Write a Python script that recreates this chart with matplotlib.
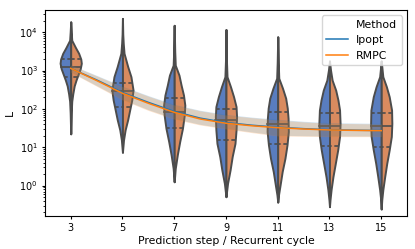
import colorsys

import numpy as np
import matplotlib
matplotlib.use("Agg")
import matplotlib.pyplot as plt
from matplotlib.colors import to_rgb
from matplotlib.lines import Line2D

# categories of the violin plot
steps = [3, 5, 7, 9, 11, 13, 15]

# violin outlines: log10(L) levels and relative density
violin_log_l = [
    [4.27, 4.0, 3.79, 3.6, 3.45, 3.3, 3.19, 3.05, 2.9, 2.75, 2.6, 2.4, 2.2, 1.9, 1.35],
    [4.36, 3.95, 3.71, 3.45, 3.1, 2.84, 2.49, 2.23, 1.97, 1.71, 1.45, 1.19, 0.87],
    [4.18, 3.5, 3.14, 2.88, 2.62, 2.36, 2.1, 1.84, 1.49, 1.15, 0.80, 0.45, 0.10],
    [4.07, 3.3, 2.84, 2.58, 2.32, 2.06, 1.80, 1.45, 1.10, 0.755, 0.41, 0.06, -0.29],
    [3.88, 3.2, 2.80, 2.54, 2.28, 2.02, 1.755, 1.41, 1.06, 0.71, 0.365, 0.02, -0.24, -0.43],
    [3.25, 3.01, 2.75, 2.49, 2.23, 1.97, 1.62, 1.28, 0.93, 0.58, 0.23, -0.11, -0.37, -0.55],
    [3.25, 2.84, 2.58, 2.32, 1.97, 1.62, 1.28, 0.93, 0.58, 0.23, -0.11, -0.37, -0.61],
]
violin_density = [
    [0, 0.05, 0.1, 0.45, 0.75, 0.95, 1.0, 0.9, 0.7, 0.5, 0.33, 0.2, 0.1, 0.05, 0],
    [0, 0.03, 0.075, 0.15, 0.5, 0.8, 1.0, 0.875, 0.68, 0.485, 0.25, 0.1, 0],
    [0, 0.05, 0.1, 0.45, 0.65, 0.875, 1.0, 0.95, 0.775, 0.52, 0.29, 0.1, 0],
    [0, 0.04, 0.1, 0.425, 0.715, 0.95, 1.0, 0.95, 0.85, 0.585, 0.39, 0.15, 0],
    [0, 0.05, 0.1, 0.45, 0.75, 0.9, 0.975, 1.0, 0.875, 0.68, 0.42, 0.225, 0.075, 0],
    [0, 0.1, 0.25, 0.585, 0.8, 0.95, 1.0, 0.95, 0.775, 0.55, 0.325, 0.15, 0.05, 0],
    [0, 0.15, 0.485, 0.75, 0.975, 1.0, 0.95, 0.75, 0.52, 0.325, 0.15, 0.05, 0],
]
q1_log = [2.84, 2.06, 1.51, 1.19, 1.08, 1.02, 1.00]
med_log = [3.08, 2.47, 1.93, 1.71, 1.60, 1.55, 1.55]
q3_log = [3.29, 2.67, 2.28, 1.99, 1.91, 1.90, 1.885]

# mean line with confidence band, every recurrent step
line_steps = [3, 4, 5, 6, 7, 8, 9, 10, 11, 12, 13, 14, 15]
ipopt_mean = [1140, 570, 268, 148, 86, 57.5, 44, 37.5, 33.3, 30.5, 28.6, 27.8, 27.3]
ipopt_lo = [920, 405, 178, 95, 56, 39.5, 31, 25, 20.5, 20, 19.6, 19.6, 19.6]
ipopt_hi = [1420, 750, 392, 222, 131, 92, 72, 61, 53.5, 47.5, 43.8, 42.8, 42]
rmpc_mean = [1140, 550, 255, 140, 81.5, 54.6, 42.2, 36.3, 32.4, 29.9, 28.2, 27.5, 27.0]
rmpc_lo = [900, 390, 171, 91, 53.7, 38, 30, 24, 19.7, 19.3, 18.9, 18.9, 18.9]
rmpc_hi = [1390, 725, 378, 214, 126, 89, 69, 59, 51.4, 45.7, 42.2, 41.2, 40.4]


def desat(c, prop=0.75):
    h, l, s = colorsys.rgb_to_hls(*to_rgb(c))
    return colorsys.hls_to_rgb(h, l, s * prop)


blue_v = desat("#4878D0")
orange_v = desat("#EE854A")
edge = "#4c4c4c"
half_w = 0.205

plt.rcParams["font.size"] = 7
plt.rcParams["xtick.major.size"] = 2.5
plt.rcParams["ytick.major.size"] = 2.5
plt.rcParams["ytick.minor.size"] = 1.5
plt.rcParams["xtick.major.pad"] = 2.5
plt.rcParams["ytick.major.pad"] = 2.5
fig = plt.figure(figsize=(4.15, 2.49), dpi=100)
ax = fig.add_axes([0.108, 0.133, 0.873, 0.827])
ax.set_yscale("log")

for i in range(len(steps)):
    lv = np.array(violin_log_l[i])
    dn = np.array(violin_density[i]) * half_w
    y = 10 ** lv
    ax.fill_betweenx(y, i - dn, i, facecolor=blue_v, edgecolor=edge, linewidth=1.4, zorder=2)
    ax.fill_betweenx(y, i, i + dn, facecolor=orange_v, edgecolor=edge, linewidth=1.4, zorder=2)
    order = np.argsort(lv)
    for q, ls in ((q1_log[i], (0, (2.2, 1.6))), (med_log[i], "-"), (q3_log[i], (0, (2.2, 1.6)))):
        w = np.interp(q, lv[order], dn[order])
        ax.plot([i - w, i], [10 ** q] * 2, color=edge, lw=1.2, ls=ls, zorder=3)
        ax.plot([i + w, i], [10 ** q] * 2, color=edge, lw=1.2, ls=ls, zorder=3)

xpos = [(s - 3) / 2 for s in line_steps]
ax.fill_between(xpos, ipopt_lo, ipopt_hi, color="#1f77b4", alpha=0.2, lw=0, zorder=4)
ax.fill_between(xpos, rmpc_lo, rmpc_hi, color="#ff7f0e", alpha=0.2, lw=0, zorder=4)
ax.plot(xpos, ipopt_mean, color="#1f77b4", lw=1.1, zorder=5)
ax.plot(xpos, rmpc_mean, color="#ff7f0e", lw=1.1, zorder=5)

ax.set_xlim(-0.5, len(steps) - 0.5)
ax.set_ylim(10 ** -0.79, 10 ** 4.58)
ax.set_xticks(range(len(steps)))
ax.set_xticklabels([str(s) for s in steps])
ax.set_xlabel("Prediction step / Recurrent cycle", fontsize=7.8, labelpad=2)
ax.set_ylabel("L", fontsize=7.8, labelpad=3)

handles = [Line2D([], [], color="none"),
           Line2D([], [], color="#1f77b4", lw=1.1),
           Line2D([], [], color="#ff7f0e", lw=1.1)]
ax.legend(handles, ["Method", "Ipopt", "RMPC"], loc="upper right", fontsize=7.8)

fig.savefig("out.png", dpi=100)
